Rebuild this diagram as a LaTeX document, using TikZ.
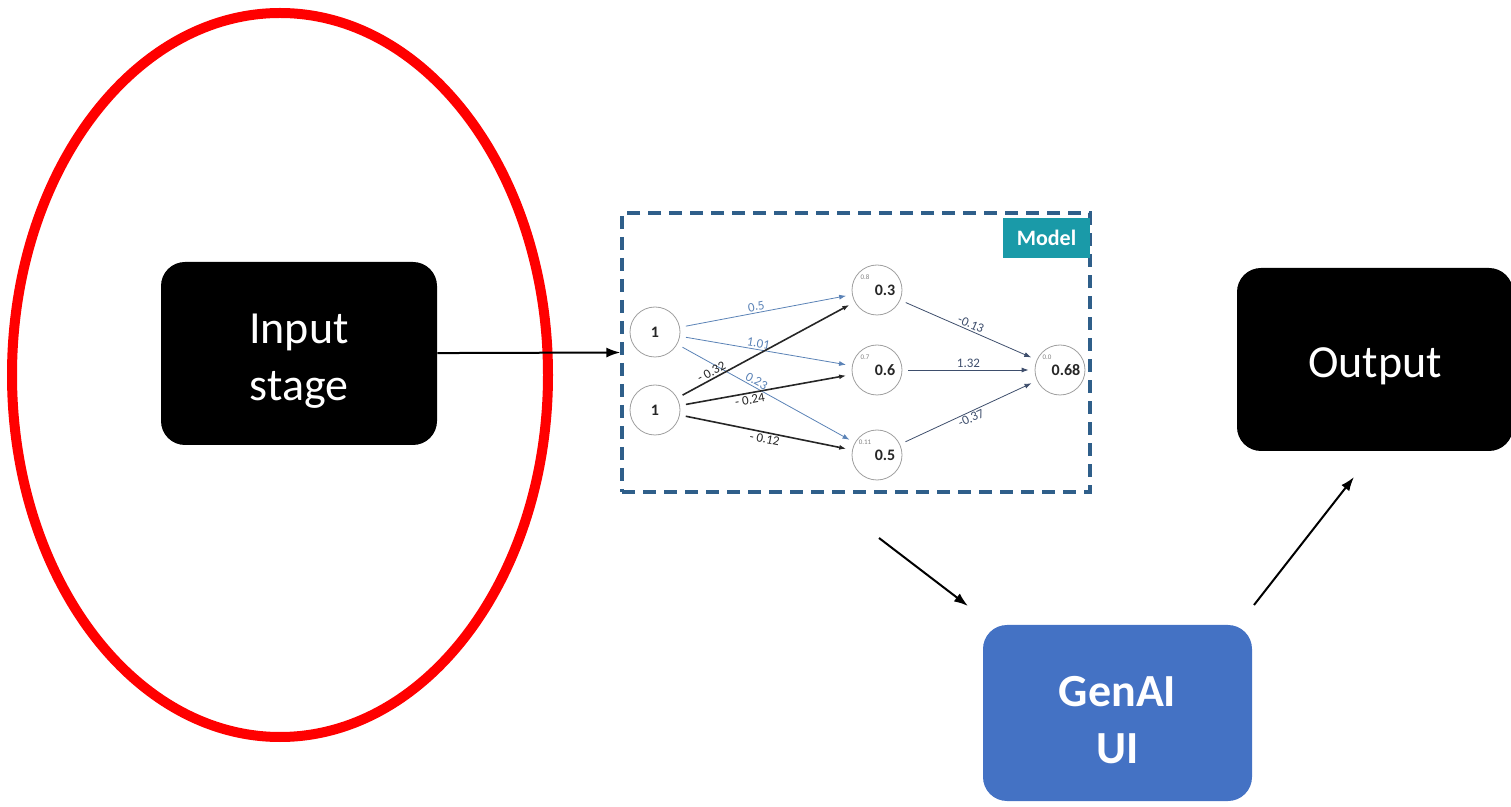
\documentclass[tikz,border=0pt]{standalone}
\usepackage{fontspec}
\setmainfont{Carlito}
\usetikzlibrary{arrows.meta}
\definecolor{genblue}{HTML}{4472C4}
\definecolor{dashblue}{HTML}{2F5F8A}
\definecolor{modelteal}{HTML}{1A9AA8}
\definecolor{wblue}{HTML}{5A82B6}
\definecolor{wslate}{HTML}{3E4E6C}
\newcommand{\tallstrut}{\rule{0pt}{22pt}}
\begin{document}
\begin{tikzpicture}[x=0.5pt, y=-0.5pt,
    stagebox/.style={rounded corners=12pt, minimum width=138pt, minimum height=91.5pt,
        align=center, text=white, font=\fontsize{23}{28.5}\selectfont},
    neuron/.style={circle, draw=gray!75, thin, minimum size=25pt, inner sep=0pt,
        font=\fontsize{8}{8}\selectfont\bfseries, text=black!85},
    tinyval/.style={font=\fontsize{3.5}{3.5}\selectfont, text=gray},
    wlabel/.style={font=\fontsize{6.5}{6.5}\selectfont, sloped, inner sep=0.8pt},
    flow/.style={-{Latex[length=7pt, width=5pt]}, line width=1pt},
    weight/.style={-{Latex[length=3.5pt, width=2.5pt]}, shorten <=3pt, shorten >=3pt}]
    \useasboundingbox (0,0) rectangle (1511,807);

    % Draw red ellipse round the input stage
    \draw[red, line width=5pt] (280,375) ellipse [x radius=134pt, y radius=181pt];

    % Draw stage boxes
    \node[stagebox, fill=black] (input) at (299,353.5) {\tallstrut Input\\stage};
    \node[stagebox, fill=black] (output) at (1375,359.5) {\tallstrut Output};
    \node[stagebox, fill=genblue, minimum width=134.5pt, minimum height=88pt,
        font=\fontsize{23}{28.5}\selectfont\bfseries] (genai) at (1117.5,713) {\tallstrut GenAI\\UI};

    % Draw model frame
    \node[draw=dashblue, line width=1.6pt, dash pattern=on 6.5pt off 4pt,
        minimum width=234pt, minimum height=139.5pt] (model) at (856,352.5) {};
    \node[fill=modelteal, text=white, minimum width=43.5pt, minimum height=20pt,
        font=\fontsize{11}{12}\selectfont\bfseries] (tab) at (1046.5,238) {Model};

    % Neurons
    \node[neuron] (in1) at (655,332) {1};
    \node[neuron] (in2) at (655,410) {1};
    \node[neuron] (h1) at (877,290) {\hspace{8pt}0.3};
    \node[neuron] (h2) at (877,370) {\hspace{8pt}0.6};
    \node[neuron] (h3) at (877,455) {\hspace{8pt}0.5};
    \node[neuron] (out) at (1060,370) {\hspace{6pt}0.68};
    \node[tinyval] (h1v) at (865,277) {0.8};
    \node[tinyval] (h2v) at (865,357) {0.7};
    \node[tinyval] (h3v) at (865,442) {0.11};
    \node[tinyval] (outv) at (1047,357) {0.0};

    % Weights, first layer
    \draw[weight, wblue] (in1) -- (h1) node[wlabel, text=wblue, above, pos=0.45] {0.5};
    \draw[weight, wblue] (in1) -- (h2) node[wlabel, text=wblue, above, pos=0.45] {1.01};
    \draw[weight, wblue] (in1) -- (h3) node[wlabel, text=wblue, above, pos=0.43] {0.23};
    \draw[weight, black!85, line width=0.8pt] (in2) -- (h1) node[wlabel, above, pos=0.21] {- 0.32};
    \draw[weight, black!85, line width=0.8pt] (in2) -- (h2) node[wlabel, below, pos=0.4] {- 0.24};
    \draw[weight, black!85, line width=0.8pt] (in2) -- (h3) node[wlabel, below, pos=0.5] {- 0.12};

    % Weights, second layer
    \draw[weight, wslate] (h1) -- (out) node[wlabel, text=wslate, above, pos=0.5] {-0.13};
    \draw[weight, wslate] (h2) -- (out) node[wlabel, text=wslate, above, pos=0.5] {1.32};
    \draw[weight, wslate] (h3) -- (out) node[wlabel, text=wslate, below, pos=0.5] {-0.37};

    % Flow arrows
    \coordinate (m2g start) at (879,538);
    \coordinate (m2g end) at (968,606);
    \coordinate (g2o start) at (1254,605);
    \coordinate (g2o end) at (1354,477);
    \draw[flow] (input) -- (model.west);
    \draw[flow] (m2g start) -- (m2g end);
    \draw[flow] (g2o start) -- (g2o end);
\end{tikzpicture}
\end{document}
